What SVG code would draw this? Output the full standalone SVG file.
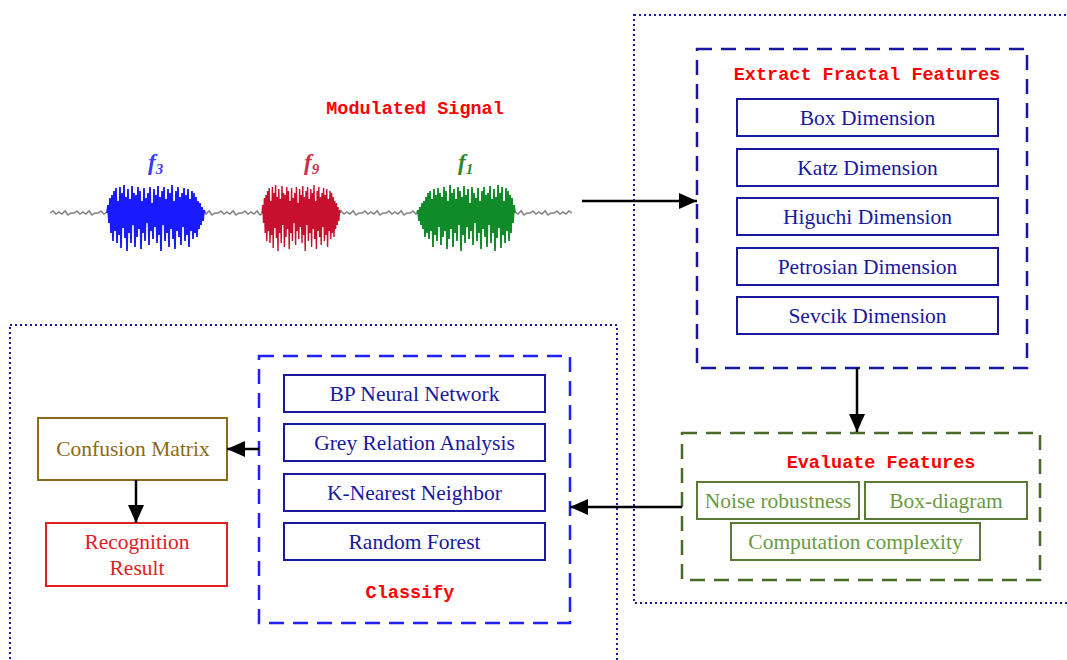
<svg xmlns="http://www.w3.org/2000/svg" xmlns:xlink="http://www.w3.org/1999/xlink" width="1067" height="660" viewBox="0 0 1067 660">
<style>
.frame{fill:none;stroke:#1a1aa0;stroke-width:2;stroke-dasharray:2 3}
.title{font-family:"Liberation Mono",monospace;font-size:18.5px;font-weight:bold;fill:#ff0000;text-anchor:middle}
.lbl{font-family:"Liberation Serif",serif;font-size:21.5px;text-anchor:middle}
.bbox{fill:#fff;stroke:#1818a0;stroke-width:2}
.btxt{fill:#1818a0}
.gbox{fill:#fff;stroke:#5a7a38;stroke-width:2}
.gtxt{fill:#6b9a45}
.flab{font-family:"Liberation Serif",serif;font-style:italic;font-weight:bold;font-size:23px}
.conn{stroke:#000;stroke-width:2.5;fill:none;marker-end:url(#arr)}
</style>
<defs>
<marker id="arr" markerUnits="userSpaceOnUse" markerWidth="18" markerHeight="16" refX="18" refY="8" orient="auto">
<path d="M0,0 L18,8 L0,16 z" fill="#000"/>
</marker>
<path id="wig" d="l3 -2 l3 3 l3 -2 l3 2 l3 -3 l3 4 l3 -2 l3 0"/>
<path id="burst" fill="none" stroke-width="1.8" d="M0 0 L1 -8 L2 10 L3 -15 L4 20 L5 -18 L6 28 L7 -22 L8 18 L9 -25 L10 30 L11 -12 L12 22 L13 -26 L14 35 L15 -20 L16 15 L17 -28 L18 25 L19 -16 L20 38 L21 -24 L22 20 L23 -14 L24 30 L25 -27 L26 12 L27 -20 L28 34 L29 -18 L30 24 L31 -26 L32 16 L33 -22 L34 36 L35 -12 L36 20 L37 -25 L38 28 L39 -15 L40 10 L41 -20 L42 32 L43 -26 L44 18 L45 -10 L46 26 L47 -24 L48 14 L49 -18 L50 30 L51 -27 L52 22 L53 -16 L54 38 L55 -22 L56 12 L57 -26 L58 28 L59 -14 L60 20 L61 -24 L62 34 L63 -20 L64 16 L65 -28 L66 26 L67 -12 L68 36 L69 -22 L70 18 L71 -26 L72 24 L73 -16 L74 32 L75 -20 L76 14 L77 -25 L78 28 L79 -18 L80 22 L81 -24 L82 34 L83 -14 L84 18 L85 -22 L86 26 L87 -20 L88 20 L89 -16 L90 24 L91 -12 L92 16 L93 -10 L94 12 L95 -6 L96 8 L97 -3 L98 0"/>
</defs>
<rect width="1067" height="660" fill="#fff"/>

<g id="frames">
<rect class="frame" x="634" y="15" width="440" height="588"/>
<rect class="frame" x="10" y="325" width="607" height="345"/>
</g>

<g id="signal">
<text class="title" x="415" y="114">Modulated Signal</text>
<path fill="none" stroke="#808080" stroke-width="1.5" d="M50 213
l3 -2 l3 3 l3 -2 l3 2 l3 -3 l3 4 l3 -2 l3 0
l3 -2 l3 3 l3 -2 l3 2 l3 -3 l3 4 l3 -2 l3 0
l3 -2 l3 3 l3 -2 l3 2 l3 -3 l3 4 l3 -2 l3 0
l3 -2 l3 3 l3 -2 l3 2 l3 -3 l3 4 l3 -2 l3 0
l3 -2 l3 3 l3 -2 l3 2 l3 -3 l3 4 l3 -2 l3 0
l3 -2 l3 3 l3 -2 l3 2 l3 -3 l3 4 l3 -2 l3 0
l3 -2 l3 3 l3 -2 l3 2 l3 -3 l3 4 l3 -2 l3 0
l3 -2 l3 3 l3 -2 l3 2 l3 -3 l3 4 l3 -2 l3 0
l3 -2 l3 3 l3 -2 l3 2 l3 -3 l3 4 l3 -2 l3 0
l3 -2 l3 3 l3 -2 l3 2 l3 -3 l3 4 l3 -2 l3 0
l3 -2 l3 3 l3 -2 l3 2 l3 -3 l3 4 l3 -2 l3 0
l3 -2 l3 3 l3 -2 l3 2 l3 -3 l3 4 l3 -2 l3 0
l3 -2 l3 3 l3 -2 l3 2 l3 -3 l3 4 l3 -2 l3 0
l3 -2 l3 3 l3 -2 l3 2 l3 -3 l3 4 l3 -2 l3 0
l3 -2 l3 3 l3 -2 l3 2 l3 -3 l3 4 l3 -2 l3 0
l3 -2 l3 3 l3 -2 l3 2 l3 -3 l3 4 l3 -2 l3 0
l3 -2 l3 3 l3 -2 l3 2 l3 -3 l3 4 l3 -2 l3 0
l3 -2 l3 3 l3 -2 l3 2 l3 -3 l3 4 l3 -2 l3 0
l3 -2 l3 3 l3 -2 l3 2 l3 -3 l3 4 l3 -2 l3 0
l3 -2 l3 3 l3 -2 l3 2 l3 -3 l3 4 l3 -2 l3 0
l3 -2 l3 3 l3 -2 l3 2 l3 -3 l3 4 l3 -2 l3 0
l3 -2 l3 3 l3 -2 l3 2 l3 -3 l3 2"/>
<use xlink:href="#burst" href="#burst" transform="translate(107,213)" stroke="#1a1aff"/>
<use xlink:href="#burst" href="#burst" transform="translate(262,213) scale(0.8,1)" stroke="#c8102e"/>
<use xlink:href="#burst" href="#burst" transform="translate(515,213) scale(-1,1)" stroke="#118a2a"/>
<text class="flab" x="148" y="170" fill="#3a3aff">f<tspan font-size="15" dy="4">3</tspan></text>
<text class="flab" x="304" y="170" fill="#c8304a">f<tspan font-size="15" dy="4">9</tspan></text>
<text class="flab" x="458" y="170" fill="#2a8a2a">f<tspan font-size="15" dy="4">1</tspan></text>
</g>

<g id="extract">
<rect x="697" y="49" width="330" height="319" fill="none" stroke="#1818a0" stroke-width="2.5" stroke-dasharray="15 9"/>
<text class="title" x="867" y="80">Extract Fractal Features</text>
<g id="box-dim"><rect class="bbox" x="737" y="99" width="261" height="37"/><text class="lbl btxt" x="867.5" y="125">Box Dimension</text></g>
<g id="katz-dim"><rect class="bbox" x="737" y="149" width="261" height="37"/><text class="lbl btxt" x="867.5" y="175">Katz Dimension</text></g>
<g id="higuchi-dim"><rect class="bbox" x="737" y="198" width="261" height="37"/><text class="lbl btxt" x="867.5" y="224">Higuchi Dimension</text></g>
<g id="petrosian-dim"><rect class="bbox" x="737" y="248" width="261" height="37"/><text class="lbl btxt" x="867.5" y="274">Petrosian Dimension</text></g>
<g id="sevcik-dim"><rect class="bbox" x="737" y="297" width="261" height="37"/><text class="lbl btxt" x="867.5" y="323">Sevcik Dimension</text></g>
</g>

<g id="evaluate">
<rect x="682" y="433" width="358" height="147" fill="none" stroke="#4a6a2a" stroke-width="2.5" stroke-dasharray="15 9"/>
<text class="title" x="881" y="468">Evaluate Features</text>
<g id="noise"><rect class="gbox" x="697" y="482" width="162" height="37"/><text class="lbl gtxt" x="778" y="508">Noise robustness</text></g>
<g id="boxdiagram"><rect class="gbox" x="865" y="482" width="162" height="37"/><text class="lbl gtxt" x="946" y="508">Box-diagram</text></g>
<g id="complexity"><rect class="gbox" x="731" y="523" width="249" height="37"/><text class="lbl gtxt" x="855.5" y="549">Computation complexity</text></g>
</g>

<g id="classify">
<rect x="259" y="356" width="311" height="267" fill="none" stroke="#1f1fff" stroke-width="2.5" stroke-dasharray="15 9"/>
<g id="bp"><rect class="bbox" x="284" y="375" width="261" height="37"/><text class="lbl btxt" x="414.5" y="401">BP Neural Network</text></g>
<g id="gra"><rect class="bbox" x="284" y="424" width="261" height="37"/><text class="lbl btxt" x="414.5" y="450">Grey Relation Analysis</text></g>
<g id="knn"><rect class="bbox" x="284" y="474" width="261" height="37"/><text class="lbl btxt" x="414.5" y="500">K-Nearest Neighbor</text></g>
<g id="rf"><rect class="bbox" x="284" y="523" width="261" height="37"/><text class="lbl btxt" x="414.5" y="549">Random Forest</text></g>
<text class="title" x="410" y="598">Classify</text>
</g>

<g id="confusion">
<rect x="38" y="418" width="189" height="62" fill="#fff" stroke="#8b6a1a" stroke-width="2"/>
<text class="lbl" x="133" y="456" fill="#8b6a14">Confusion Matrix</text>
</g>

<g id="recognition">
<rect x="46" y="523" width="181" height="63" fill="#fff" stroke="#e02020" stroke-width="2"/>
<text class="lbl" x="137" y="549" fill="#e02020">Recognition</text>
<text class="lbl" x="137" y="575" fill="#e02020">Result</text>
</g>

<g id="connectors">
<line class="conn" x1="582" y1="201" x2="697" y2="201"/>
<line class="conn" x1="857" y1="368" x2="857" y2="432"/>
<line class="conn" x1="682" y1="507" x2="570" y2="507"/>
<line class="conn" x1="259" y1="449" x2="227" y2="449"/>
<line class="conn" x1="136" y1="480" x2="136" y2="523"/>
</g>
</svg>
